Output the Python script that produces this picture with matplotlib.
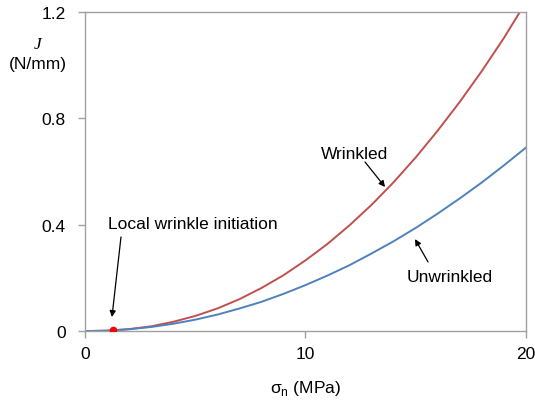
import matplotlib.pyplot as plt

plt.rcParams['font.family'] = ['Liberation Sans', 'DejaVu Sans']

# Energy release rate J vs normal stress
sigma = [0, 1, 2, 3, 4, 5, 6, 7, 8, 9, 10, 11, 12, 13, 14, 15, 16, 17, 18, 19, 20]
j_wrinkled = [0, 0.0016, 0.0075, 0.018, 0.035, 0.057, 0.085, 0.120, 0.162, 0.210, 0.266,
              0.328, 0.398, 0.475, 0.560, 0.653, 0.754, 0.862, 0.978, 1.102, 1.237]
j_unwrinkled = [0, 0.0017, 0.0069, 0.0155, 0.0276, 0.043, 0.062, 0.085, 0.110, 0.140, 0.173,
                0.209, 0.248, 0.292, 0.338, 0.388, 0.442, 0.499, 0.559, 0.623, 0.690]
initiation = (1.25, 0.003)

red = '#C0504D'
blue = '#4F81BD'
grey = '#A0A0A0'
fs = 12.5

fig = plt.figure(figsize=(5.35, 4.06), dpi=100)
ax = fig.add_axes([0.159, 0.182, 0.824, 0.786])

ax.plot(sigma, j_wrinkled, color=red, lw=1.4)
ax.plot(sigma, j_unwrinkled, color=blue, lw=1.4)
ax.plot(*initiation, 'o', color='#FF0000', ms=4.5, zorder=5)

ax.set_xlim(0, 20)
ax.set_ylim(0, 1.2)
ax.set_xticks([0, 10, 20])
ax.set_yticks([0, 0.4, 0.8, 1.2])
ax.set_yticklabels(['0', '0.4', '0.8', '1.2'])
for s in ax.spines.values():
    s.set_color(grey)
    s.set_linewidth(1.0)
ax.tick_params(direction='out', length=5, width=1.0, color=grey, labelsize=fs)
ax.tick_params(axis='y', pad=9)
ax.tick_params(axis='x', pad=6)

ax.set_xlabel(r'σ$_\mathregular{n}$ (MPa)', fontsize=fs, labelpad=12)
fig.text(0.070, 0.889, 'J', style='italic', fontsize=fs, ha='center', va='center',
         family='Liberation Serif')
fig.text(0.070, 0.84, '(N/mm)', fontsize=fs, ha='center', va='center')

arrow = dict(arrowstyle='-|>', color='black', lw=0.9, mutation_scale=9, shrinkA=0, shrinkB=0)

ax.text(4.90, 0.406, 'Local wrinkle initiation', fontsize=fs, ha='center', va='center')
ax.annotate('', xy=(1.22, 0.053), xytext=(1.63, 0.354), arrowprops=arrow)

ax.text(12.24, 0.666, 'Wrinkled', fontsize=fs, ha='center', va='center')
ax.annotate('', xy=(13.61, 0.542), xytext=(12.70, 0.636), arrowprops=arrow)

ax.text(16.55, 0.207, 'Unwrinkled', fontsize=fs, ha='center', va='center')
ax.annotate('', xy=(14.97, 0.346), xytext=(15.56, 0.260), arrowprops=arrow)

fig.savefig('out.png', dpi=100)
